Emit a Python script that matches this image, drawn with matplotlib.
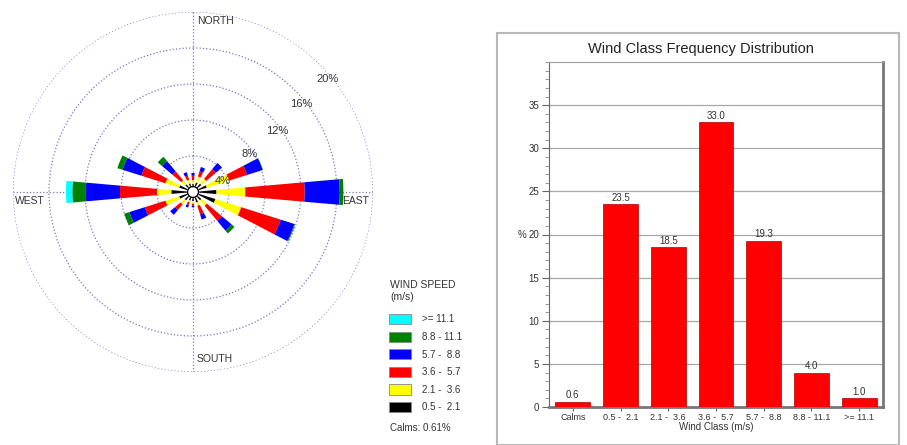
import numpy as np
import matplotlib
matplotlib.use('Agg')
import matplotlib.pyplot as plt
from matplotlib.patches import Patch, Rectangle
from matplotlib.ticker import MultipleLocator

plt.rcParams['font.family'] = ['Liberation Sans', 'DejaVu Sans']

# wind rose data: % per speed class, 16 directions from N clockwise
directions = ['N', 'NNE', 'NE', 'ENE', 'E', 'ESE', 'SE', 'SSE',
              'S', 'SSW', 'SW', 'WSW', 'W', 'WNW', 'NW', 'NNW']
spd_05_21 = [0.3, 0.5, 0.6, 1.0, 2.0, 2.0, 0.6, 0.6, 0.4, 0.4, 0.6, 1.0, 1.8, 1.0, 0.5, 0.4]
spd_21_36 = [0.4, 0.7, 0.7, 2.6, 3.2, 3.0, 0.8, 0.4, 0.3, 0.2, 0.6, 1.6, 1.6, 1.6, 0.6, 0.4]
spd_36_57 = [0.5, 0.6, 1.4, 2.1, 6.6, 4.6, 2.2, 1.0, 0.2, 0.3, 0.8, 2.4, 4.1, 2.8, 1.3, 0.5]
spd_57_88 = [0.3, 0.5, 0.9, 1.8, 3.9, 1.6, 1.4, 0.6, 0.2, 0.3, 0.7, 1.8, 3.8, 2.2, 1.5, 0.4]
spd_88_111 = [0, 0, 0, 0.05, 0.4, 0.1, 0.4, 0, 0, 0, 0, 0.6, 1.5, 0.6, 0.6, 0]
spd_111 = [0, 0, 0, 0, 0, 0, 0, 0, 0, 0, 0, 0, 0.7, 0, 0, 0]
calms = 0.61

speed_labels = ['0.5 -  2.1', '2.1 -  3.6', '3.6 -  5.7', '5.7 -  8.8', '8.8 - 11.1', '>= 11.1']
speed_colors = ['#000000', '#ffff00', '#ff0000', '#0000ff', '#008000', '#00ffff']
rings = [4, 8, 12, 16, 20]
ring_label_angles = [70, 56, 54, 51, 50]

# frequency distribution data
wind_classes = ['Calms', '0.5 -  2.1', '2.1 -  3.6', '3.6 -  5.7', '5.7 -  8.8', '8.8 - 11.1', '>= 11.1']
class_freq = [0.6, 23.5, 18.5, 33.0, 19.3, 4.0, 1.0]

txt = '#333333'
fig = plt.figure(figsize=(9.07, 4.45), dpi=100)

# ---- wind rose
ax = fig.add_axes([13/907, 73/445, 360/907, 360/445], projection='polar')
ax.set_theta_zero_location('N')
ax.set_theta_direction(-1)
theta = np.deg2rad(np.arange(len(directions)) * 22.5)
width = np.deg2rad(10)
bottom = np.full(len(directions), calms)
for vals, col in zip([spd_05_21, spd_21_36, spd_36_57, spd_57_88, spd_88_111, spd_111], speed_colors):
    ax.bar(theta, vals, width=width, bottom=bottom, color=col, linewidth=0, zorder=3)
    bottom = bottom + np.array(vals)
# calm circle
tt = np.linspace(0, 2*np.pi, 100)
ax.fill(tt, np.full_like(tt, calms), color='white', zorder=4)
ax.plot(tt, np.full_like(tt, calms), color='black', lw=1.0, zorder=5)

ax.set_ylim(0, 20)
ax.set_yticks(rings)
ax.set_yticklabels([])
ax.set_xticks(np.deg2rad([0, 90, 180, 270]))
ax.set_xticklabels([])
ax.grid(True, color='#7878c8', linestyle=':', linewidth=0.9)
ax.spines['polar'].set_visible(False)
for r, a in zip(rings, ring_label_angles):
    ax.text(np.deg2rad(a), r - 0.45, f'{r}%', ha='center', va='center',
            fontsize=8, color=txt, zorder=6)
ax.text(0.511, 0.989, 'NORTH', transform=ax.transAxes, ha='left', va='top', fontsize=7.5, color=txt)
ax.text(0.511, 0.022, 'SOUTH', transform=ax.transAxes, ha='left', va='bottom', fontsize=7.5, color=txt)
ax.text(0.006, 0.49, 'WEST', transform=ax.transAxes, ha='left', va='top', fontsize=7.5, color=txt)
ax.text(0.914, 0.49, 'EAST', transform=ax.transAxes, ha='left', va='top', fontsize=7.5, color=txt)

# legend
fig.text(390/907, 1 - 285/445, 'WIND SPEED', fontsize=7.5, color=txt, va='center')
fig.text(390/907, 1 - 297/445, '(m/s)', fontsize=7.5, color=txt, va='center')
handles = [Patch(facecolor=c, edgecolor='#888888', linewidth=0.6) for c in speed_colors[::-1]]
leg = fig.legend(handles, speed_labels[::-1], loc='upper left',
                 bbox_to_anchor=(389/907, 1 - 314/445), frameon=False, fontsize=7,
                 handlelength=2.3, handleheight=1.25, labelspacing=0.74,
                 handletextpad=1.1, borderpad=0, borderaxespad=0)
for t in leg.get_texts():
    t.set_color(txt)
fig.text(390/907, 1 - 428/445, f'Calms: {calms:.2f}%', fontsize=7, color=txt, va='center')

# ---- bar chart
fig.add_artist(Rectangle((497/907, 0), 402/907, 1 - 33/445, transform=fig.transFigure,
                         fill=False, edgecolor='#b8b8b8', linewidth=1.5))
bx = fig.add_axes([549/907, 38/445, 334/907, 345/445])
x = np.arange(len(wind_classes))
bars = bx.bar(x, class_freq, width=0.73, color='#ff0000', edgecolor='#b00000', linewidth=0.5, zorder=3)
bx.bar_label(bars, fmt='%.1f', padding=1, fontsize=7, color=txt)
bx.set_xlim(-0.5, len(wind_classes) - 0.5)
bx.set_ylim(0, 40)
bx.set_yticks(range(0, 40, 5))
bx.yaxis.set_minor_locator(MultipleLocator(1))
bx.grid(axis='y', color='#a8a8a8', linewidth=0.9, zorder=0)
bx.set_xticks(x)
bx.set_xticklabels(wind_classes, fontsize=6.5, color=txt)
bx.tick_params(axis='y', labelsize=7, labelcolor=txt, colors='#666666', length=5, pad=2)
bx.tick_params(axis='y', which='minor', length=3, colors='#888888')
bx.tick_params(axis='x', length=3, pad=1.5, colors='#666666', labelcolor=txt)
bx.set_xlabel('Wind Class (m/s)', fontsize=7, color=txt, labelpad=0)
bx.set_ylabel('%', rotation=0, fontsize=7, color=txt, va='center')
bx.yaxis.set_label_coords(-0.08, 0.5)
fig.text(701/907, 1 - 49/445, 'Wind Class Frequency Distribution', fontsize=10.5,
         color='#222222', ha='center', va='center')
bx.spines['top'].set_color('#a0a0a0')
bx.spines['left'].set_color('#666666')
bx.spines['left'].set_linewidth(0.8)
bx.spines['right'].set_color('#777777')
bx.spines['right'].set_linewidth(2)
bx.spines['bottom'].set_color('#777777')
bx.spines['bottom'].set_linewidth(2)

fig.savefig('out.png', dpi=100)
